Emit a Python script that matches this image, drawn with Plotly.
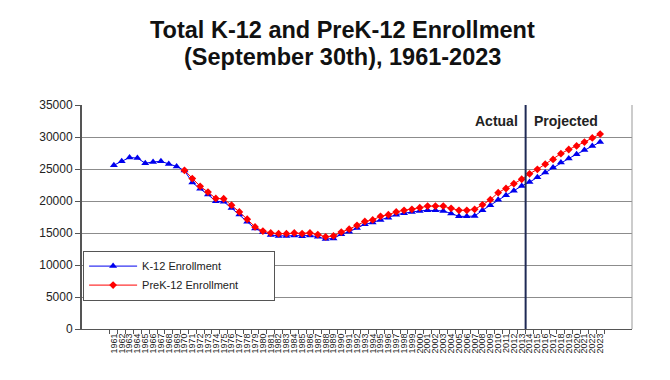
import plotly.graph_objects as go

years = [str(y) for y in range(1961, 2024)]

k12 = [25600, 26200, 26800, 26700, 25900, 26100, 26200, 25800, 25400, 24750,
       22900, 21900, 21000, 19950, 19900, 18900, 17900, 16750, 15700, 15150,
       14700, 14550, 14550, 14600, 14500, 14600, 14400, 14050, 14150, 14800,
       15200, 15800, 16350, 16650, 17050, 17400, 17850, 18100, 18300, 18450,
       18550, 18550, 18450, 18050, 17600, 17600, 17650, 18550, 19350, 20200,
       20900, 21600, 22350, 22950, 23700, 24450, 25250, 26000, 26650, 27300,
       27950, 28600, 29200]

prek12 = [None] * 9 + [
       24800, 23500, 22300, 21400, 20400, 20350, 19350, 18300, 17150, 15950,
       15300, 15000, 14900, 14900, 15000, 14900, 15000, 14750, 14400, 14550,
       15150, 15600, 16200, 16800, 17050, 17600, 17850, 18300, 18550, 18700,
       18950, 19200, 19200, 19200, 18850, 18550, 18550, 18700, 19400, 20200,
       21300, 21950, 22700, 23400, 24250, 24950, 25750, 26500, 27400, 28050,
       28600, 29200, 29850, 30450]

y_ticks = [0, 5000, 10000, 15000, 20000, 25000, 30000, 35000]
title_lines = ["Total K-12 and PreK-12 Enrollment", "(September 30th), 1961-2023"]
series_names = ["K-12 Enrollment", "PreK-12 Enrollment"]
projection_start = "2014"
FONT = "Liberation Sans, Arial, sans-serif"
PAD = "\u00a0" * 10  # invisible padding to widen the legend box

fig = go.Figure()
fig.add_trace(go.Scatter(
    x=years, y=k12, name=series_names[0], mode="lines+markers",
    line=dict(color="#0000EE", width=1),
    marker=dict(symbol="triangle-up", size=7, color="#0000EE"),
))
fig.add_trace(go.Scatter(
    x=years, y=prek12, name=series_names[1] + PAD, mode="lines+markers",
    line=dict(color="#FF0000", width=1),
    marker=dict(symbol="diamond", size=6, color="#FF0000"),
))

split = years.index(projection_start) - 0.5
fig.add_shape(type="line", xref="x", yref="paper", x0=split, x1=split, y0=0, y1=1,
              line=dict(color="#1F2A55", width=2))
fig.add_shape(type="line", xref="paper", yref="paper", x0=1, x1=1, y0=0, y1=1,
              line=dict(color="#999999", width=1))

fig.add_annotation(x=split, y=1, xref="x", yref="paper", text="<b>Actual</b>",
                   showarrow=False, xanchor="right", yanchor="top", xshift=-6, yshift=-6,
                   font=dict(family=FONT, size=14, color="#222222"))
fig.add_annotation(x=split, y=1, xref="x", yref="paper", text="<b>Projected</b>",
                   showarrow=False, xanchor="left", yanchor="top", xshift=6, yshift=-6,
                   font=dict(family=FONT, size=14, color="#222222"))

for line, ypos in zip(title_lines, [1.337, 1.216]):
    fig.add_annotation(x=0.4745, y=ypos, xref="paper", yref="paper",
                       text="<b>" + line + "</b>", showarrow=False,
                       xanchor="center", yanchor="middle",
                       font=dict(family=FONT, size=23.5, color="#111111"))

fig.update_layout(
    width=662, height=372,
    margin=dict(l=74, r=38, t=97, b=51, autoexpand=False),
    paper_bgcolor="white", plot_bgcolor="white",
    font=dict(family=FONT, color="#222222"),
    showlegend=True,
    legend=dict(x=0.002, y=0.35, xanchor="left", yanchor="top",
                bgcolor="white", bordercolor="#555555", borderwidth=1,
                font=dict(family=FONT, size=11, color="#222222"),
                itemwidth=48, tracegroupgap=0),
)
fig.update_xaxes(
    type="category", tickmode="array", tickvals=years, ticktext=years,
    tickangle=-90, tickfont=dict(size=9, color="#222222"), automargin=False,
    showgrid=False, showline=True, linecolor="#555555", linewidth=1,
    ticks="outside", ticklen=4, tickcolor="#555555", tickson="boundaries",
)
fig.update_yaxes(
    range=[0, 35000], tickvals=y_ticks, ticktext=[str(v) for v in y_ticks],
    tickfont=dict(size=12, color="#222222"), automargin=False,
    showgrid=True, gridcolor="#8c8c8c", gridwidth=1,
    showline=True, linecolor="#555555", linewidth=2,
    ticks="outside", ticklen=5, tickcolor="#555555", zeroline=False,
)

fig.write_html("out.html")
